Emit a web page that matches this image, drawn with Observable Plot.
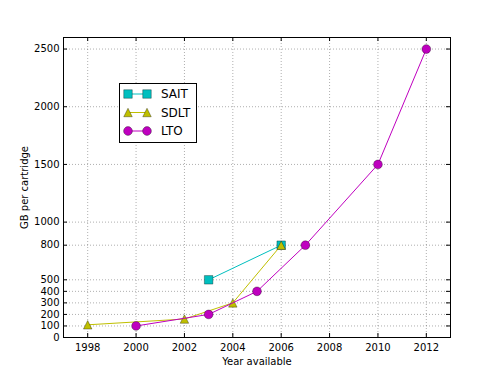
<!DOCTYPE html>
<html>
<head>
<meta charset="utf-8">
<script src="https://cdn.jsdelivr.net/npm/d3@7"></script>
<script src="https://cdn.jsdelivr.net/npm/@observablehq/plot@0.6"></script>
<style>
  html, body { margin: 0; padding: 0; background: #fff; }
  #chart { position: relative; width: 500px; height: 375px; }
</style>
</head>
<body>
<div id="chart"></div>
<script>
// ---- data ----
const seriesNames = ["SAIT", "SDLT", "LTO"];
const saitYears = [2003, 2006];
const saitGB = [500, 800];
const sdltYears = [1998, 2002, 2004, 2006];
const sdltGB = [110, 160, 300, 800];
const ltoYears = [2000, 2003, 2005, 2007, 2010, 2012];
const ltoGB = [100, 200, 400, 800, 1500, 2500];
const xTicks = [1998, 2000, 2002, 2004, 2006, 2008, 2010, 2012];
const yTicks = [0, 100, 200, 300, 400, 500, 800, 1000, 1500, 2000, 2500];

const colors = {SAIT: "#00bfbf", SDLT: "#bfbf00", LTO: "#bf00bf"};
// matplotlib-style triangle: as wide as tall, centred on its bounding box
const mplTriangle = {
  draw(context, size) {
    const h = Math.sqrt(size) / 2;
    context.moveTo(0, -h);
    context.lineTo(h, h);
    context.lineTo(-h, h);
    context.closePath();
  }
};
const symbols = {SAIT: d3.symbolSquare, SDLT: mplTriangle, LTO: d3.symbolCircle};
const radii = {SAIT: 4.8, SDLT: 4.8, LTO: 4.4};

const rows = (name, xs, ys) => xs.map((x, i) => ({series: name, year: x, gb: ys[i]}));
const sait = rows("SAIT", saitYears, saitGB);
const sdlt = rows("SDLT", sdltYears, sdltGB);
const lto = rows("LTO", ltoYears, ltoGB);

const W = 500, H = 375;
const mL = 63, mR = 50, mT = 37, mB = 38;
const plotH = H - mT - mB;
const plotW = W - mL - mR;
const font = "DejaVu Sans, sans-serif";

const seriesMarks = (data, name) => [
  Plot.line(data, {x: "year", y: "gb", stroke: colors[name], strokeWidth: 1}),
  Plot.dot(data, {x: "year", y: "gb", symbol: () => symbols[name], r: radii[name],
    fill: colors[name], stroke: "#000", strokeOpacity: 0.55, strokeWidth: 0.6})
];

const chart = Plot.plot({
  width: W, height: H,
  marginLeft: mL, marginRight: mR, marginTop: mT, marginBottom: mB,
  style: {fontFamily: font, fontSize: "10px", background: "#fff", color: "#000"},
  x: {domain: [1997, 2013]},
  y: {domain: [0, 2600]},
  symbol: {type: "identity"},
  marks: [
    // dotted grid
    Plot.ruleX(xTicks, {x: d => d, stroke: "#000", strokeOpacity: 0.4, strokeWidth: 0.8, strokeDasharray: "1,2"}),
    Plot.ruleY(yTicks, {y: d => d, stroke: "#000", strokeOpacity: 0.4, strokeWidth: 0.8, strokeDasharray: "1,2"}),
    // inward ticks
    Plot.tickX(xTicks, {x: d => d, insetTop: plotH - 4, stroke: "#000"}),
    Plot.tickX(xTicks, {x: d => d, insetBottom: plotH - 4, stroke: "#000"}),
    Plot.tickY(yTicks, {y: d => d, insetRight: plotW - 4, stroke: "#000"}),
    Plot.tickY(yTicks, {y: d => d, insetLeft: plotW - 4, stroke: "#000"}),
    Plot.axisX(xTicks, {tickSize: 0, tickPadding: 6, tickFormat: d => String(d), fontSize: 10,
      label: "Year available", labelAnchor: "center", labelOffset: 27, labelArrow: "none"}),
    Plot.axisY(yTicks, {tickSize: 0, tickPadding: 4, tickFormat: d => String(d), fontSize: 10,
      label: "GB per cartridge", labelAnchor: "center", labelOffset: 43, labelArrow: "none"}),
    ...seriesMarks(sait, "SAIT"),
    ...seriesMarks(sdlt, "SDLT"),
    ...seriesMarks(lto, "LTO"),
    Plot.frame({stroke: "#000", strokeWidth: 1})
  ]
});
document.getElementById("chart").appendChild(chart);

// ---- legend ----
const svg = d3.select(chart);
const lg = svg.append("g").attr("font-family", font).attr("font-size", 12).attr("text-anchor", "start");
lg.append("rect").attr("x", 119.5).attr("y", 83.5).attr("width", 77).attr("height", 59)
  .attr("fill", "#fff").attr("stroke", "#000").attr("stroke-width", 1);
seriesNames.forEach((name, i) => {
  const cy = 94 + i * 18.5;
  lg.append("line").attr("x1", 128).attr("x2", 147).attr("y1", cy).attr("y2", cy)
    .attr("stroke", colors[name]).attr("stroke-width", 1);
  [128, 147].forEach(cx => {
    lg.append("path")
      .attr("d", d3.symbol(symbols[name], Math.PI * radii[name] * radii[name])())
      .attr("transform", `translate(${cx},${cy})`)
      .attr("fill", colors[name]).attr("stroke", "#000").attr("stroke-opacity", 0.55).attr("stroke-width", 0.6);
  });
  lg.append("text").attr("x", 161).attr("y", cy).attr("dy", "0.36em").attr("text-anchor", "start").text(name);
});
</script>
</body>
</html>
